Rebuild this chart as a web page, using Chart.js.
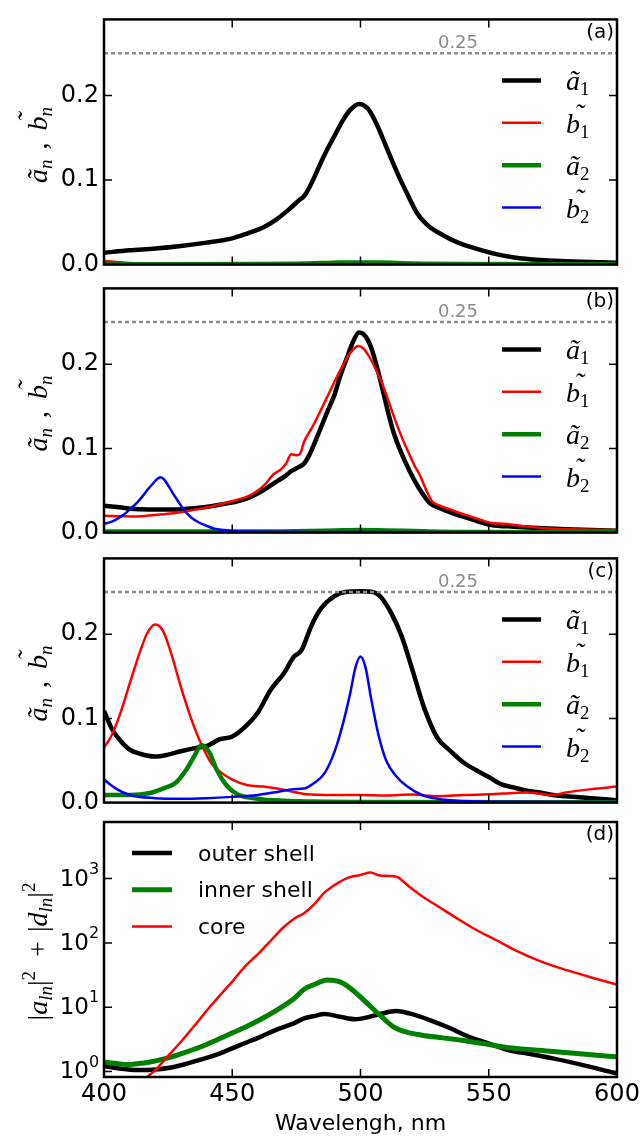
<!DOCTYPE html>
<html>
<head>
<meta charset="utf-8">
<title>Multipole coefficients</title>
<script src="https://cdn.jsdelivr.net/npm/chart.js@4.4.1/dist/chart.umd.min.js"></script>
<style>
  html, body { margin: 0; padding: 0; background: #fff; }
  #fig { position: relative; width: 644px; height: 1141px; overflow: hidden; background: #fff; }
  #fig canvas { position: absolute; left: 0; }
</style>
</head>
<body>
<div id="fig">
  <canvas id="chartA"></canvas>
  <canvas id="chartB"></canvas>
  <canvas id="chartC"></canvas>
  <canvas id="chartD"></canvas>
</div>
<script>
// ---- axes ----
var xTicks = [400, 450, 500, 550, 600];
var yTicksLin = [0, 0.1, 0.2];
var yTicksLog = [1, 10, 100, 1000];
var refLevel = 0.25;

// ---- panel (a) ----
var paA1Wl = [400,410,420,430,440,450,456,462,467,472,476,478,481,484,487,490,493,496,499.5,503,506,509,512,515,518,522,526,532,538,545,552,560,570,580,590,600];
var paA1 = [0.014,0.017,0.019,0.022,0.026,0.031,0.037,0.044,0.053,0.065,0.076,0.081,0.097,0.117,0.136,0.153,0.170,0.183,0.190,0.184,0.168,0.147,0.125,0.104,0.085,0.061,0.047,0.035,0.026,0.019,0.013,0.0085,0.0055,0.004,0.003,0.0022];
var paB1Wl = [400,405,410,415,420,430,450,500,600];
var paB1 = [0.0045,0.003,0.002,0.0014,0.001,0.0006,0.0004,0.0003,0.0002];
var paA2Wl = [400,460,475,485,492,500,508,515,525,540,600];
var paA2 = [0.0004,0.0006,0.001,0.0018,0.0024,0.0026,0.0024,0.0018,0.0011,0.0006,0.0003];
var paB2Wl = [400,430,500,600];
var paB2 = [0.0005,0.0004,0.0003,0.0003];

// ---- panel (b) ----
var pbA1Wl = [400,406,412,420,427,435,443,452,457,460,464,468,471,473,476,478,480,483,487,490,492,495,497,499.4,501,503,505,507,509,511,513,516,519,521,524,527,531,535,540,544,551,560,567,580,590,600];
var pbA1 = [0.032,0.030,0.028,0.0275,0.0275,0.029,0.032,0.037,0.042,0.0466,0.054,0.062,0.068,0.073,0.078,0.082,0.092,0.113,0.143,0.165,0.185,0.21,0.226,0.2375,0.236,0.228,0.212,0.19,0.165,0.14,0.118,0.094,0.074,0.062,0.047,0.035,0.029,0.024,0.019,0.015,0.009,0.007,0.0057,0.004,0.003,0.0023];
var pbB1Wl = [400,406,412,420,427,435,442,447,452,456,460,463,466,469,471,473,475,476.5,478,481,484,487,490,493,495,497,499,501,503,505,508,510.5,513,516,518,521,523,526,528,531,535,539,543,547,551,556,560,567,575,590,600];
var pbB1 = [0.02,0.0195,0.019,0.021,0.023,0.027,0.031,0.035,0.039,0.043,0.05,0.058,0.069,0.075,0.082,0.093,0.092,0.094,0.108,0.124,0.142,0.161,0.18,0.198,0.209,0.217,0.2215,0.219,0.211,0.2,0.18,0.16,0.138,0.114,0.1,0.08,0.069,0.048,0.037,0.032,0.0275,0.023,0.019,0.015,0.0115,0.0105,0.009,0.0065,0.0046,0.0035,0.003];
var pbA2Wl = [400,460,480,490,500,510,525,540,600];
var pbA2 = [0.0012,0.0012,0.0018,0.0026,0.0032,0.0026,0.0015,0.0008,0.0005];
var pbB2Wl = [400,403,405,408,410,413,415,417,419,420.5,422,423.5,425,427,428.5,430,432,434,437,440,443,447,450,460,480,500,600];
var pbB2 = [0.0103,0.013,0.016,0.022,0.0275,0.036,0.043,0.051,0.058,0.063,0.0657,0.063,0.056,0.046,0.039,0.032,0.024,0.018,0.012,0.008,0.0046,0.003,0.002,0.0012,0.0008,0.0006,0.0004];

// ---- panel (c) ----
var pcA1Wl = [400,401.5,403,406,410,414,420,425,430,436,440,445,450,455,460,465,470,474,477,481,485,490,494,500,505,508,512,516,520,525,530,535,540,545,550,555,560,565,570,575,580,590,600];
var pcA1 = [0.109,0.098,0.088,0.075,0.063,0.058,0.0547,0.057,0.061,0.065,0.067,0.075,0.0786,0.09,0.107,0.134,0.153,0.173,0.181,0.211,0.232,0.2456,0.25,0.251,0.25,0.244,0.225,0.198,0.16,0.111,0.0767,0.0615,0.048,0.0387,0.0304,0.0216,0.0178,0.014,0.012,0.009,0.0076,0.0053,0.0027];
var pcB1Wl = [400,403,406,410,414,417,420,423,426,430,434,438,442,446,450,456,462,470,478,490,500,510,520,530,540,550,560,565,575,580,590,600];
var pcB1 = [0.065,0.08,0.103,0.141,0.179,0.202,0.2115,0.204,0.179,0.137,0.0995,0.069,0.046,0.035,0.0273,0.0205,0.019,0.0152,0.0103,0.009,0.009,0.0084,0.0095,0.0076,0.009,0.0099,0.0114,0.012,0.009,0.012,0.016,0.019];
var pcA2Wl = [400,410,418,424,428,432,435,438,441,444,448,452,458,466,480,500,600];
var pcA2 = [0.009,0.009,0.0114,0.0178,0.0235,0.0387,0.054,0.068,0.06,0.0387,0.0197,0.01,0.0053,0.0027,0.0012,0.0008,0.0005];
var pcB2Wl = [400,405,410,420,430,440,450,460,468,474,478,482,486,490,493,496,498,500,502,504,507,510,514,518,524,530,540,560,600];
var pcB2 = [0.0273,0.016,0.009,0.0053,0.0046,0.0053,0.0068,0.009,0.013,0.016,0.0167,0.0235,0.035,0.0615,0.092,0.13,0.16,0.1735,0.16,0.126,0.0805,0.05,0.031,0.0197,0.009,0.0046,0.002,0.001,0.0008];

// ---- panel (d) ----
var pdOuterWl = [400,404,408,414,420,425,430,437,445,453,461,468,474,478,482,486,492,498,503,508,514,519,527,535,542,550,558,565,575,590,600];
var pdOuter = [1.22,1.14,1.09,1.05,1.07,1.13,1.25,1.5,1.9,2.57,3.46,4.6,5.6,6.7,7.3,7.8,7.1,6.5,7.0,7.9,8.7,8.0,6.3,4.7,3.5,2.72,2.14,1.9,1.6,1.17,0.93];
var pdInnerWl = [400,405,409,413,417,425,432,440,448,456,464,470,474,478,482,487,492,497,502,507.6,513,518,524,532,542,550,558,575,590,600];
var pdInner = [1.41,1.33,1.28,1.32,1.38,1.63,2.0,2.63,3.67,5.1,7.5,10.5,13.5,19,22.5,26.4,24.7,18.4,12.1,7.5,4.9,4.1,3.67,3.33,2.96,2.63,2.33,2.05,1.82,1.69];
var pdCoreWl = [415,420,425,430,435,440,445,450,455,460,465,470,475,478,482,486,490,495,500,504,507,511,514,519,525,530,537,545,553,560,570,580,590,600];
var pdCore = [0.72,1.05,1.75,2.9,5.0,8.8,15,25,43,67,108,175,250,290,400,610,800,1030,1140,1245,1130,1100,1070,750,500,375,250,160,110,78,52,38,29,22.5];

// ---- look ----
var SERIF = '"Liberation Serif", "DejaVu Serif", serif';
var SANS = '"DejaVu Sans", "Liberation Sans", sans-serif';
var MI = 'italic 28px ' + SERIF;
var SUB = 'italic 19px ' + SERIF;
var SUBRM = '19px ' + SERIF;
var RM = '28px ' + SERIF;

var BLACK = '#000000', RED = '#ff0000', GREEN = '#008000', BLUE = '#0000ff', GREY = '#8c8c8c';

var LEFT = 104, RIGHT = 617;
var geo = [
  { top: 15, bottom: 269 },
  { top: 284, bottom: 537 },
  { top: 554, bottom: 807 },
  { top: 822, bottom: 1077 }
];

function pts(wl, val) {
  return wl.map(function(w, i) { return { x: w, y: val[i] }; });
}

// text made of pieces (italic letters, sub/superscripts, tildes)
function drawRich(ctx, segs, x, y, align) {
  var total = 0;
  segs.forEach(function(s) {
    ctx.font = s.f;
    s.w = ctx.measureText(s.t).width + (s.gap || 0);
    total += s.w;
  });
  var cx = align === 'center' ? x - total / 2 : x;
  ctx.textAlign = 'left';
  segs.forEach(function(s) {
    ctx.font = s.f;
    ctx.fillText(s.t, cx, y + (s.dy || 0));
    if (s.tilde) ctx.fillText('\u02DC', cx + s.w * 0.6, y - s.tilde);
    cx += s.w;
  });
}

var labA1 = [{ t: '\u00E3', f: MI }, { t: '1', f: SUBRM, dy: 5 }];
var labB1 = [{ t: 'b', f: MI, tilde: 10 }, { t: '1', f: SUBRM, dy: 5 }];
var labA2 = [{ t: '\u00E3', f: MI }, { t: '2', f: SUBRM, dy: 5 }];
var labB2 = [{ t: 'b', f: MI, tilde: 10 }, { t: '2', f: SUBRM, dy: 5 }];
var titleAB = [
  { t: '\u00E3', f: MI }, { t: 'n', f: SUB, dy: 5, gap: 10 },
  { t: ',', f: RM, gap: 12 },
  { t: 'b', f: MI, tilde: 10 }, { t: 'n', f: SUB, dy: 5 }
];
var titleD = [
  { t: '|', f: RM }, { t: 'a', f: MI }, { t: 'ln', f: SUB, dy: 5 }, { t: '|', f: RM },
  { t: '2', f: SUBRM, dy: -12, gap: 14 },
  { t: '+', f: RM, gap: 9 },
  { t: '|', f: RM }, { t: 'd', f: MI }, { t: 'ln', f: SUB, dy: 5 }, { t: '|', f: RM },
  { t: '2', f: SUBRM, dy: -12 }
];

var decorPlugin = {
  id: 'decor',
  afterDraw: function(chart, args, o) {
    var ctx = chart.ctx, a = chart.chartArea;
    var xs = chart.scales.x, ys = chart.scales.y;
    ctx.save();

    // inward ticks on all four sides
    ctx.strokeStyle = '#000';
    ctx.lineWidth = 1.5;
    ctx.beginPath();
    xTicks.forEach(function(v) {
      if (v <= xs.min || v >= xs.max) return;
      var p = xs.getPixelForValue(v);
      ctx.moveTo(p, a.bottom); ctx.lineTo(p, a.bottom - 8);
      ctx.moveTo(p, a.top); ctx.lineTo(p, a.top + 8);
    });
    o.yTicks.forEach(function(v) {
      var p = ys.getPixelForValue(v);
      if (p > a.bottom - 2 || p < a.top + 2) return;
      ctx.moveTo(a.left, p); ctx.lineTo(a.left + 8, p);
      ctx.moveTo(a.right, p); ctx.lineTo(a.right - 8, p);
    });
    ctx.stroke();
    ctx.lineWidth = 2.5;
    ctx.strokeRect(a.left, a.top, a.right - a.left, a.bottom - a.top);

    ctx.fillStyle = '#000';
    ctx.textBaseline = 'middle';
    ctx.textAlign = 'right';
    ctx.font = '20px ' + SANS;
    ctx.fillText(o.letter, a.right - 3, a.top + 13);

    if (o.refLabel) {
      ctx.fillStyle = GREY;
      ctx.font = '18px ' + SANS;
      ctx.textAlign = 'center';
      ctx.fillText(o.refLabel, xs.getPixelForValue(o.refLabelX), ys.getPixelForValue(refLevel) - 10);
    }

    if (o.logLabels) {
      ctx.fillStyle = '#000';
      yTicksLog.forEach(function(v) {
        var p = ys.getPixelForValue(v);
        ctx.textAlign = 'right';
        ctx.textBaseline = 'middle';
        ctx.font = '23px ' + SANS;
        ctx.fillText('10', 89, p + 1);
        ctx.textAlign = 'left';
        ctx.font = '16px ' + SANS;
        ctx.fillText(String(Math.round(Math.log10(v))), 89, p - 9);
      });
    }

    // legend inside the axes
    var L = o.legend;
    L.items.forEach(function(it, i) {
      var y = a.top + L.y0 + i * L.dy;
      ctx.strokeStyle = it.color;
      ctx.lineWidth = it.width;
      ctx.lineCap = 'butt';
      ctx.beginPath();
      ctx.moveTo(L.x0, y);
      ctx.lineTo(L.x1, y);
      ctx.stroke();
      ctx.fillStyle = '#000';
      if (typeof it.label === 'string') {
        ctx.font = L.font;
        ctx.textAlign = 'left';
        ctx.textBaseline = 'middle';
        ctx.fillText(it.label, L.xt, y + 2);
      } else {
        ctx.textBaseline = 'alphabetic';
        drawRich(ctx, it.label, L.xt, y + 10, 'left');
      }
    });

    // rotated y title
    ctx.fillStyle = '#000';
    ctx.translate(o.titleX, (a.top + a.bottom) / 2 + (o.titleDy || 0));
    ctx.rotate(-Math.PI / 2);
    ctx.textBaseline = 'alphabetic';
    drawRich(ctx, o.title, 0, 0, 'center');
    ctx.restore();
  }
};

function seriesSets(list) {
  var n = list.length;
  return list.map(function(s, i) {
    return {
      label: s.name,
      data: pts(s.wl, s.val),
      borderColor: s.color,
      borderWidth: s.width,
      pointRadius: 0,
      fill: false,
      cubicInterpolationMode: 'monotone',
      order: n - i
    };
  });
}

function linPanel(id, g, letter, list) {
  var cv = document.getElementById(id);
  cv.width = 644;
  cv.height = g.bottom - g.top + 30;
  cv.style.top = (g.top - 15) + 'px';
  var sets = seriesSets(list);
  sets.push({
    label: 'ref',
    data: [{ x: 400, y: refLevel }, { x: 600, y: refLevel }],
    borderColor: GREY, borderWidth: 2.5, borderDash: [4, 3],
    pointRadius: 0, fill: false, order: 0
  });
  return new Chart(cv, {
    type: 'line',
    data: { datasets: sets },
    options: {
      responsive: false, animation: false, devicePixelRatio: 1, events: [],
      layout: { padding: { top: 15, bottom: 15, left: 0, right: 644 - RIGHT } },
      plugins: {
        legend: { display: false }, tooltip: { enabled: false },
        decor: {
          letter: letter, yTicks: yTicksLin, refLabel: '0.25', refLabelX: 538,
          title: titleAB, titleX: 47, titleDy: 3,
          legend: {
            x0: 502, x1: 541, xt: 566, y0: 61, dy: 42.4,
            items: list.map(function(s) { return { color: s.color, width: s.width, label: s.label }; })
          }
        }
      },
      scales: {
        x: {
          type: 'linear', min: 400, max: 600, display: false,
          afterBuildTicks: function(s) { s.ticks = xTicks.map(function(v) { return { value: v }; }); }
        },
        y: {
          type: 'linear', min: 0, max: 0.29,
          afterBuildTicks: function(s) { s.ticks = yTicksLin.map(function(v) { return { value: v }; }); },
          afterFit: function(s) { s.width = LEFT; },
          grid: { display: false, drawTicks: false },
          border: { display: false },
          ticks: {
            color: '#000', padding: 5,
            font: { family: SANS, size: 24 },
            callback: function(v) { return v.toFixed(1); }
          }
        }
      }
    },
    plugins: [decorPlugin]
  });
}

linPanel('chartA', geo[0], '(a)', [
  { name: 'a1', label: labA1, wl: paA1Wl, val: paA1, color: BLACK, width: 4.5 },
  { name: 'b1', label: labB1, wl: paB1Wl, val: paB1, color: RED, width: 2.5 },
  { name: 'a2', label: labA2, wl: paA2Wl, val: paA2, color: GREEN, width: 4.5 },
  { name: 'b2', label: labB2, wl: paB2Wl, val: paB2, color: BLUE, width: 2.5 }
]);
linPanel('chartB', geo[1], '(b)', [
  { name: 'a1', label: labA1, wl: pbA1Wl, val: pbA1, color: BLACK, width: 4.5 },
  { name: 'b1', label: labB1, wl: pbB1Wl, val: pbB1, color: RED, width: 2.5 },
  { name: 'a2', label: labA2, wl: pbA2Wl, val: pbA2, color: GREEN, width: 4.5 },
  { name: 'b2', label: labB2, wl: pbB2Wl, val: pbB2, color: BLUE, width: 2.5 }
]);
linPanel('chartC', geo[2], '(c)', [
  { name: 'a1', label: labA1, wl: pcA1Wl, val: pcA1, color: BLACK, width: 4.5 },
  { name: 'b1', label: labB1, wl: pcB1Wl, val: pcB1, color: RED, width: 2.5 },
  { name: 'a2', label: labA2, wl: pcA2Wl, val: pcA2, color: GREEN, width: 4.5 },
  { name: 'b2', label: labB2, wl: pcB2Wl, val: pcB2, color: BLUE, width: 2.5 }
]);

// panel (d), log scale
(function() {
  var g = geo[3];
  var cv = document.getElementById('chartD');
  cv.width = 644;
  cv.height = 1141 - (g.top - 15);
  cv.style.top = (g.top - 15) + 'px';
  var list = [
    { name: 'outer shell', label: 'outer shell', wl: pdOuterWl, val: pdOuter, color: BLACK, width: 4.5 },
    { name: 'inner shell', label: 'inner shell', wl: pdInnerWl, val: pdInner, color: GREEN, width: 5 },
    { name: 'core', label: 'core', wl: pdCoreWl, val: pdCore, color: RED, width: 2.5 }
  ];
  new Chart(cv, {
    type: 'line',
    data: { datasets: seriesSets(list) },
    options: {
      responsive: false, animation: false, devicePixelRatio: 1, events: [],
      layout: { padding: { top: 15, bottom: 0, left: 0, right: 644 - RIGHT } },
      plugins: {
        legend: { display: false }, tooltip: { enabled: false },
        decor: {
          letter: '(d)', yTicks: yTicksLog, logLabels: true,
          title: titleD, titleX: 47, titleDy: 2,
          legend: {
            x0: 132, x1: 172, xt: 198, y0: 31, dy: 36.7, font: '22px ' + SANS,
            items: list.map(function(s) { return { color: s.color, width: s.width, label: s.label }; })
          }
        }
      },
      scales: {
        x: {
          type: 'linear', min: 400, max: 600,
          afterBuildTicks: function(s) { s.ticks = xTicks.map(function(v) { return { value: v }; }); },
          afterFit: function(s) { s.height = 1141 - g.bottom; },
          grid: { display: false, drawTicks: false },
          border: { display: false },
          ticks: {
            color: '#000', padding: 3, maxRotation: 0, autoSkip: false,
            font: { family: SANS, size: 24 },
            callback: function(v) { return String(v); }
          },
          title: {
            display: true, text: 'Wavelengh, nm', color: '#000',
            font: { family: SANS, size: 22 }, padding: { top: 0, bottom: 4 }
          }
        },
        y: {
          type: 'logarithmic', min: 0.82, max: 7600,
          afterBuildTicks: function(s) { s.ticks = yTicksLog.map(function(v) { return { value: v }; }); },
          afterFit: function(s) { s.width = LEFT; },
          grid: { display: false, drawTicks: false },
          border: { display: false },
          ticks: { display: false }
        }
      }
    },
    plugins: [decorPlugin]
  });
})();
</script>
</body>
</html>
